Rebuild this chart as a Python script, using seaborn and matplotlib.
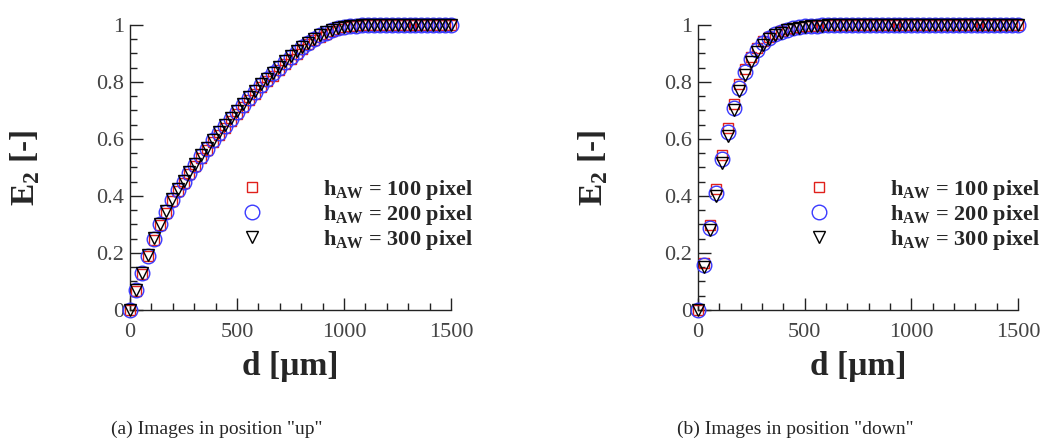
import matplotlib
matplotlib.use("Agg")
import matplotlib.pyplot as plt
import seaborn as sns
import pandas as pd
from matplotlib.ticker import MultipleLocator, FormatStrFormatter

# distance from the interface [um]
d = [0, 28, 56, 83, 111, 139, 167, 194, 222, 250, 278, 306, 333, 361, 389,
     417, 444, 472, 500, 528, 556, 583, 611, 639, 667, 694, 722, 750, 778,
     806, 833, 861, 889, 917, 944, 972, 1000, 1028, 1056, 1083, 1111, 1139,
     1167, 1194, 1222, 1250, 1278, 1306, 1333, 1361, 1389, 1417, 1444, 1472,
     1500]

# (a) position "up"
up_100 = [0.0, 0.068, 0.128, 0.188, 0.247, 0.297, 0.342, 0.381, 0.416, 0.446,
          0.476, 0.506, 0.535, 0.560, 0.589, 0.614, 0.639, 0.664, 0.689, 0.713,
          0.738, 0.758, 0.782, 0.802, 0.822, 0.842, 0.862, 0.881, 0.898, 0.916,
          0.932, 0.946, 0.959, 0.970, 0.979, 0.986, 0.992, 0.995, 0.997, 0.999] + [1.0] * 15
up_200 = [0.0, 0.070, 0.130, 0.190, 0.250, 0.300, 0.345, 0.385, 0.420, 0.450,
          0.480, 0.510, 0.540, 0.565, 0.595, 0.620, 0.645, 0.670, 0.695, 0.720,
          0.745, 0.765, 0.790, 0.810, 0.830, 0.850, 0.870, 0.888, 0.905, 0.922,
          0.937, 0.951, 0.963, 0.973, 0.981, 0.988, 0.993, 0.996, 0.998, 0.999] + [1.0] * 15
up_300 = [0.0, 0.069, 0.131, 0.192, 0.252, 0.302, 0.348, 0.388, 0.423, 0.453,
          0.483, 0.513, 0.543, 0.568, 0.598, 0.623, 0.648, 0.673, 0.698, 0.723,
          0.748, 0.768, 0.792, 0.812, 0.832, 0.852, 0.872, 0.890, 0.907, 0.923,
          0.938, 0.952, 0.964, 0.974, 0.982, 0.988, 0.993, 0.996, 0.998, 0.999] + [1.0] * 15

# (b) position "down"
down_100 = [0.0, 0.165, 0.297, 0.425, 0.543, 0.638, 0.723, 0.792, 0.847, 0.888,
            0.919, 0.942, 0.958, 0.970, 0.979, 0.986, 0.990, 0.993, 0.996, 0.997,
            0.998, 0.999] + [1.0] * 33
down_200 = [0.0, 0.158, 0.287, 0.412, 0.528, 0.625, 0.710, 0.780, 0.836, 0.879,
            0.912, 0.936, 0.954, 0.967, 0.977, 0.984, 0.989, 0.993, 0.995, 0.997,
            0.998, 0.999] + [1.0] * 33
down_300 = [0.0, 0.152, 0.280, 0.400, 0.515, 0.612, 0.700, 0.770, 0.826, 0.870,
            0.905, 0.930, 0.949, 0.963, 0.973, 0.981, 0.987, 0.991, 0.994, 0.996,
            0.997, 0.998, 0.999] + [1.0] * 32

labels = ["h$_{\\mathbf{AW}}$ = 100 pixel",
          "h$_{\\mathbf{AW}}$ = 200 pixel",
          "h$_{\\mathbf{AW}}$ = 300 pixel"]
captions = ['(a) Images in position "up"', '(b) Images in position "down"']

sns.set_style("white")
plt.rcParams["font.family"] = ["Liberation Serif", "DejaVu Serif"]
plt.rcParams["mathtext.fontset"] = "custom"
plt.rcParams["mathtext.rm"] = "Liberation Serif"
plt.rcParams["mathtext.bf"] = "Liberation Serif:bold"

styles = [("s", "#e0201b", 7.5), ("o", "#3a3aff", 10.5), ("v", "black", 8.5)]

fig = plt.figure(figsize=(10.45, 4.44), dpi=100)
ax_a = fig.add_axes([0.1244, 0.3018, 0.3072, 0.642])
ax_b = fig.add_axes([0.6679, 0.3018, 0.3062, 0.642])

panels = [(ax_a, [up_100, up_200, up_300], captions[0], 0.207),
          (ax_b, [down_100, down_200, down_300], captions[1], 0.761)]

for ax, series, caption, cx in panels:
    for vals, (mk, col, ms), lab in zip(series, styles, labels):
        df = pd.DataFrame({"d": d, "E2": vals})
        sns.lineplot(data=df, x="d", y="E2", ax=ax, linestyle="", marker=mk,
                     markersize=ms, markerfacecolor="none", markeredgecolor=col,
                     markeredgewidth=1.0, label=lab, clip_on=False, zorder=3)
    ax.set_xlim(0, 1500)
    ax.set_ylim(0, 1)
    ax.xaxis.set_major_locator(MultipleLocator(500))
    ax.xaxis.set_minor_locator(MultipleLocator(100))
    ax.yaxis.set_major_locator(MultipleLocator(0.2))
    ax.yaxis.set_minor_locator(MultipleLocator(0.05))
    ax.yaxis.set_major_formatter(FormatStrFormatter("%g"))
    ax.tick_params(which="both", bottom=True, left=True, direction="in",
                   width=1.0, color="#222222")
    ax.tick_params(which="major", length=9, labelsize=16, labelcolor="#444444")
    ax.tick_params(which="minor", length=5)
    ax.tick_params(axis="x", pad=9)
    ax.tick_params(axis="y", pad=4)
    for side in ["top", "right"]:
        ax.spines[side].set_visible(False)
    for side in ["left", "bottom"]:
        ax.spines[side].set_color("#222222")
        ax.spines[side].set_linewidth(1.0)
    ax.set_xlabel("d [µm]", fontsize=24, fontweight="bold")
    ax.xaxis.set_label_coords(0.5, -0.145)
    ax.set_ylabel("E$_{\\mathbf{2}}$ [-]", fontsize=24, fontweight="bold")
    ax.yaxis.set_label_coords(-0.275, 0.5)
    leg = ax.legend(loc="center left", bbox_to_anchor=(0.31, 0.334), frameon=False,
                    handlelength=2.0, handletextpad=2.2, labelspacing=0.05,
                    borderpad=0, borderaxespad=0,
                    prop={"weight": "bold", "size": 16})
    fig.text(cx, 0.032, caption, ha="center", va="center", fontsize=14)

fig.savefig("out.png", dpi=100)
